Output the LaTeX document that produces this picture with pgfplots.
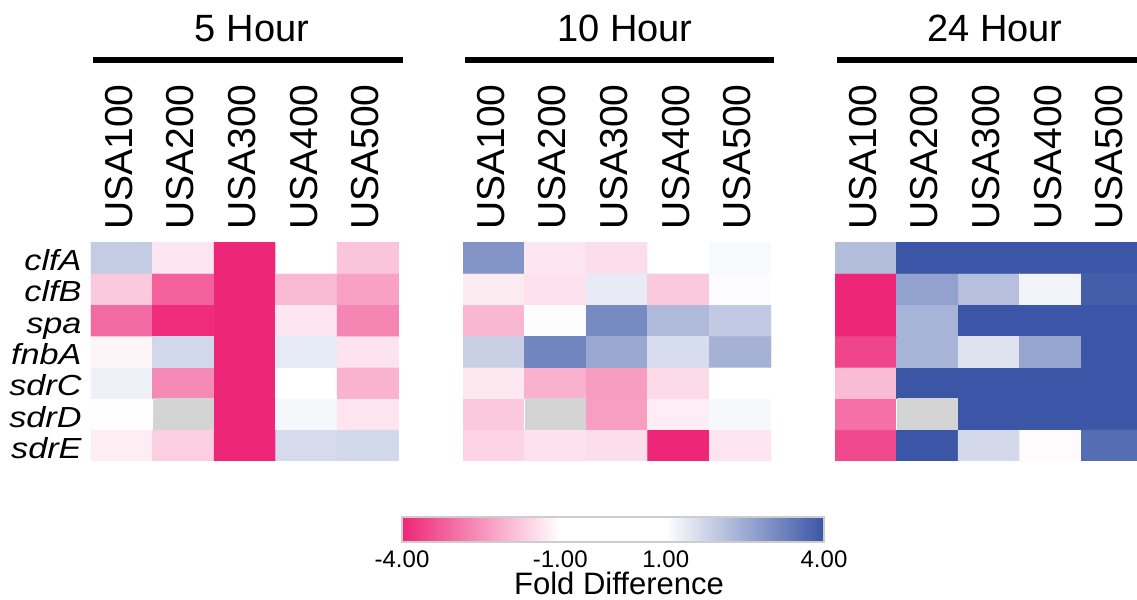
\documentclass[border=0pt]{standalone}
\usepackage{pgfplots}
\pgfplotsset{compat=1.18}
\usepackage{pgfplotstable}
\usepackage{fontspec}
\setmainfont{Liberation Sans}

\definecolor{nagray}{RGB}{212,212,212}
\definecolor{barframe}{RGB}{205,205,205}

% Fold difference per strain (x: USA100..USA500 = 0..4)
% and gene (y: sdrE=0, sdrD=1, sdrC=2, fnbA=3, spa=4, clfB=5, clfA=6).
% NA cells carry v=0 and are painted grey on top.
\pgfplotstableread{
x y v
0 0 -1.24
1 0 -1.67
2 0 -4.00
3 0 1.65
4 0 1.70
0 1 1.02
1 1 0
2 1 -4.00
3 1 1.15
4 1 -1.36
0 2 1.26
1 2 -2.62
2 2 -4.00
3 2 1.00
4 2 -2.05
0 3 -1.14
1 3 1.69
2 3 -4.00
3 3 1.38
4 3 -1.39
0 4 -3.04
1 4 -3.90
2 4 -4.00
3 4 -1.35
4 4 -2.68
0 5 -1.75
1 5 -3.20
2 5 -4.00
3 5 -1.97
4 5 -2.30
0 6 1.90
1 6 -1.35
2 6 -4.00
3 6 1.00
4 6 -1.80
}\fivehour

\pgfplotstableread{
x y v
0 0 -1.60
1 0 -1.40
2 0 -1.47
3 0 -4.00
4 0 -1.37
0 1 -1.76
1 1 0
2 1 -2.34
3 1 -1.25
4 1 1.12
0 2 -1.32
1 2 -2.08
2 2 -2.36
3 2 -1.51
4 2 1.00
0 3 1.83
1 3 3.17
2 3 2.54
3 3 1.60
4 3 2.37
0 4 -2.00
1 4 1.03
2 4 3.08
3 4 2.23
4 4 1.94
0 5 -1.28
1 5 -1.42
2 5 1.35
3 5 -1.74
4 5 1.05
0 6 2.90
1 6 -1.35
2 6 -1.47
3 6 1.00
4 6 1.10
}\tenhour

\pgfplotstableread{
x y v
0 0 -3.51
1 0 4.00
2 0 1.68
3 0 -1.05
4 0 3.60
0 1 -2.97
1 1 0
2 1 4.00
3 1 4.00
4 1 4.00
0 2 -1.93
1 2 4.00
2 2 4.00
3 2 4.00
4 2 4.00
0 3 -3.57
1 3 2.34
2 3 1.49
3 3 2.60
4 3 4.00
0 4 -4.00
1 4 2.34
2 4 4.00
3 4 4.00
4 4 4.00
0 5 -4.00
1 5 2.66
2 5 2.11
3 5 1.22
4 5 3.85
0 6 2.17
1 6 4.00
2 6 4.00
3 6 4.00
4 6 4.00
}\twentyfourhour

\pgfplotsset{
  heat/.style={
    scale only axis, width=154pt, height=109.5pt,
    anchor=north west,
    xmin=-0.5, xmax=4.5, ymin=-0.5, ymax=6.5,
    axis line style={draw=none}, tick style={draw=none},
    major tick length=0pt,
    xtick={0,...,4},
    xticklabels={USA100,USA200,USA300,USA400,USA500},
    xticklabel pos=upper,
    xticklabel style={font=\fontsize{19.5}{20}\selectfont,
      xshift=-1.5pt, rotate=90, anchor=west, inner sep=0pt},
    xticklabel shift=6pt,
    ytick={0,...,6}, yticklabels={},
    colormap={fold}{rgb255(0cm)=(238,38,119); rgb255(3cm)=(255,255,255);
      rgb255(5cm)=(255,255,255); rgb255(8cm)=(59,86,166)},
    point meta min=-4, point meta max=4,
  },
  cells/.style={matrix plot*, mesh/cols=5, point meta=explicit},
  % a plain filled polygon for a missing value
  nacell/.style={sharp plot, mesh input=lattice, mesh/rows=1, mesh/cols=4,
    point meta=none, draw=none, fill=nagray},
}

\begin{document}
\begin{tikzpicture}

% group headers
\node[anchor=base, font=\fontsize{19}{20}\selectfont] at (126pt,-20.5pt) {5 Hour};
\node[anchor=base, font=\fontsize{19}{20}\selectfont] at (312.5pt,-20.5pt) {10 Hour};
\node[anchor=base, font=\fontsize{19}{20}\selectfont] at (497.5pt,-20.5pt) {24 Hour};
\draw[line width=3.2pt] (46.5pt,-30pt) -- (201.5pt,-30pt);
\draw[line width=3.2pt] (232.5pt,-30pt) -- (387pt,-30pt);
\draw[line width=3.2pt] (418.5pt,-30pt) -- (575pt,-30pt);

% 5 hours
\begin{axis}[heat, at={(45.5pt,-121pt)},
  yticklabels={sdrE,sdrD,sdrC,fnbA,spa,clfB,clfA},
  yticklabel style={font=\fontsize{14.5}{15}\selectfont\itshape,
    anchor=base east, inner sep=0pt, yshift=-6.5pt, xscale=1.18},
  yticklabel shift=4.5pt]
  \addplot[cells] table[x=x, y=y, meta=v] {\fivehour};
  \addplot[nacell] coordinates {(0.5,0.5) (1.5,0.5) (1.5,1.5) (0.5,1.5)};
\end{axis}

% 10 hours, carrying the shared colour scale
\begin{axis}[heat, at={(231.5pt,-121pt)},
  colorbar horizontal,
  colorbar shift/.style={},
  colorbar style={
    at={(parent axis.south west)}, anchor=north west,
    xshift=-30.5pt, yshift=-28pt,
    scale only axis, width=211pt, height=12.5pt,
    xtick={-4,-1,1,4},
    xticklabels={-4.00,-1.00,1.00,4.00},
    xticklabel pos=lower,
    xticklabel style={font=\fontsize{12}{13}\selectfont, inner sep=0pt},
    xticklabel shift=4pt,
    xlabel={Fold Difference},
    xlabel style={font=\fontsize{15.5}{16}\selectfont, inner sep=0pt,
      yshift=-2pt, xshift=3pt},
    tick style={draw=none}, major tick length=0pt,
    axis line style={draw=barframe, line width=1pt},
  }]
  \addplot[cells] table[x=x, y=y, meta=v] {\tenhour};
  \addplot[nacell] coordinates {(0.5,0.5) (1.5,0.5) (1.5,1.5) (0.5,1.5)};
\end{axis}

% 24 hours
\begin{axis}[heat, at={(417.5pt,-121pt)}]
  \addplot[cells] table[x=x, y=y, meta=v] {\twentyfourhour};
  \addplot[nacell] coordinates {(0.5,0.5) (1.5,0.5) (1.5,1.5) (0.5,1.5)};
\end{axis}

\pgfresetboundingbox
\useasboundingbox (0pt,0pt) rectangle (568.5pt,-300pt);
\end{tikzpicture}
\end{document}
